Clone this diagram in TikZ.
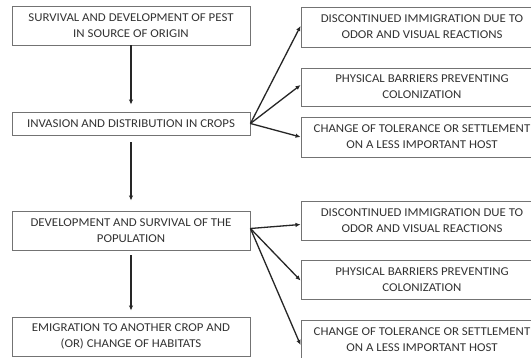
\documentclass[tikz,border=0pt]{standalone}
\usepackage{fontspec}
\setmainfont{Carlito}[FakeStretch=1.07]
\usetikzlibrary{arrows.meta}
\begin{document}
\begin{tikzpicture}[x=1pt,y=-1pt,
  box/.style={draw=black!55,line width=0.9pt,rectangle,inner sep=0pt,align=center,
    font=\fontsize{12}{16}\selectfont,text=black!80},
  lbox/.style={box,minimum width=238pt},
  rbox/.style={box,minimum width=242pt},
  arr/.style={draw=black!85,line width=1.3pt,-{Latex[length=5pt,width=4.5pt]}}]
\useasboundingbox (0,0) rectangle (531,358);
\fill[white] (0,0) rectangle (531,358);
\clip (0,0) rectangle (531,358);
\node[lbox,minimum height=39pt] (b1) at (131,25.5) {SURVIVAL AND DEVELOPMENT OF PEST\\IN SOURCE OF ORIGIN};
\node[lbox,minimum height=23pt] (b2) at (131,123.5) {INVASION AND DISTRIBUTION IN CROPS};
\node[lbox,minimum height=39pt] (b3) at (131,230.5) {DEVELOPMENT AND SURVIVAL OF THE\\POPULATION};
\node[lbox,minimum height=39pt] (b4) at (131,336.5) {EMIGRATION TO ANOTHER CROP AND\\(OR) CHANGE OF HABITATS};
\node[rbox,minimum height=40pt] (r1) at (422,27) {DISCONTINUED IMMIGRATION DUE TO\\ODOR AND VISUAL REACTIONS};
\node[rbox,minimum height=38pt] (r2) at (422,87) {PHYSICAL BARRIERS PREVENTING\\COLONIZATION};
\node[rbox,minimum height=40pt] (r3) at (422,137) {CHANGE OF TOLERANCE OR SETTLEMENT\\ON A LESS IMPORTANT HOST};
\node[rbox,minimum height=39pt] (r4) at (422,220.5) {DISCONTINUED IMMIGRATION DUE TO\\ODOR AND VISUAL REACTIONS};
\node[rbox,minimum height=39pt] (r5) at (422,279.5) {PHYSICAL BARRIERS PREVENTING\\COLONIZATION};
\node[rbox,minimum height=40pt] (r6) at (422,340) {CHANGE OF TOLERANCE OR SETTLEMENT\\ON A LESS IMPORTANT HOST};
\draw[arr,shorten >=7pt] (b1.south) -- (b2.north);
\draw[arr,shorten <=7pt,shorten >=10pt] (b2.south) -- (b3.north);
\draw[arr,shorten <=5pt,shorten >=6pt] (b3.south) -- (b4.north);
\draw[arr] (b2.east) -- ([yshift=1pt]r1.west);
\draw[arr] (b2.east) -- ([yshift=2pt]r2.west);
\draw[arr] (b2.east) -- (r3.west);
\draw[arr] ([yshift=2pt]b3.east) -- ([yshift=-4pt]r4.west);
\draw[arr] ([yshift=2pt]b3.east) -- ([yshift=-1pt]r5.west);
\draw[arr] ([yshift=2pt]b3.east) -- ([yshift=-5pt]r6.west);
\end{tikzpicture}
\end{document}
